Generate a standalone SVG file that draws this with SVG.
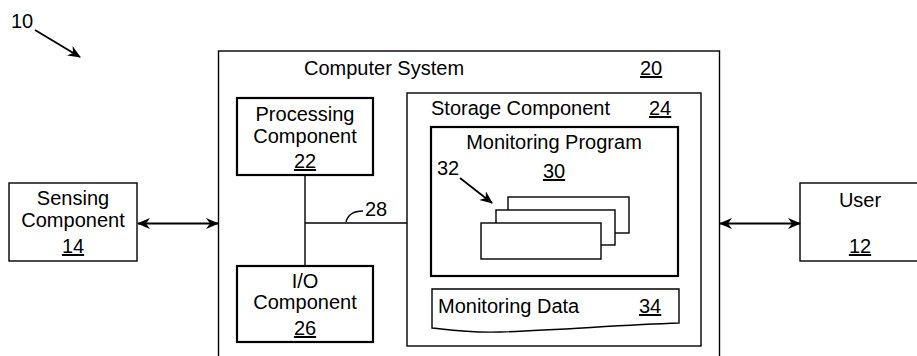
<svg xmlns="http://www.w3.org/2000/svg" width="917" height="356" viewBox="0 0 917 356">
<style>
  text { font-family: "Liberation Sans", Arial, sans-serif; font-size: 20px; fill: #000; }
  .c { text-anchor: middle; }
  .u { text-decoration: underline; }
  .box { fill: #fff; stroke: #000; stroke-width: 1.4; }
  .thick { fill: #fff; stroke: #000; stroke-width: 2.2; }
  .ln { fill: none; stroke: #000; stroke-width: 1.4; }
  .arr { fill: none; stroke: #000; stroke-width: 1.8; }
</style>
<defs>
  <marker id="ah" viewBox="0 0 13 11" refX="12" refY="5.5" markerWidth="13" markerHeight="11" markerUnits="userSpaceOnUse" orient="auto-start-reverse">
    <path d="M0,0 L13,5.5 L0,11 L4,5.5 z" fill="#000"/>
  </marker>
</defs>
<rect width="917" height="356" fill="#fff"/>

<g id="ref10">
  <text x="11" y="28">10</text>
  <line x1="35" y1="30" x2="80" y2="57" class="arr" marker-end="url(#ah)"/>
</g>

<g id="computer-system">
  <rect x="218.5" y="51" width="501" height="320" class="box"/>
  <text x="304" y="75">Computer System</text>
  <text x="640" y="75" class="u">20</text>
</g>

<g id="processing">
  <rect x="237" y="98" width="136" height="77" class="thick"/>
  <text x="305" y="121" class="c">Processing</text>
  <text x="305" y="143" class="c">Component</text>
  <text x="305" y="168" class="c u">22</text>
</g>

<g id="io">
  <rect x="237" y="266" width="136" height="76" class="thick"/>
  <text x="305" y="288" class="c">I/O</text>
  <text x="305" y="309" class="c">Component</text>
  <text x="305" y="335" class="c u">26</text>
</g>

<g id="storage">
  <rect x="407" y="93" width="294" height="253" class="box"/>
  <text x="431" y="115">Storage Component</text>
  <text x="649" y="115" class="u">24</text>
</g>

<g id="monitoring-program">
  <rect x="431" y="127" width="247" height="149" class="thick"/>
  <text x="554" y="149" class="c">Monitoring Program</text>
  <text x="554" y="178" class="c u">30</text>
  <text x="437" y="175">32</text>
  <line x1="460" y1="178" x2="492" y2="203" class="arr" marker-end="url(#ah)"/>
  <g id="modules">
    <rect x="508" y="197" width="121" height="36" class="box"/>
    <rect x="496" y="210" width="119" height="35" class="box"/>
    <rect x="481" y="223" width="120" height="36" class="box"/>
  </g>
</g>

<g id="monitoring-data">
  <path d="M432,289 L679,289 L679,323 C620,325 560,330 500,332 C470,333 450,330 432,328 Z" class="box"/>
  <text x="438" y="313">Monitoring Data</text>
  <text x="639" y="313" class="u">34</text>
</g>

<g id="sensing">
  <rect x="9" y="183" width="128" height="78" class="box"/>
  <text x="73" y="205" class="c">Sensing</text>
  <text x="73" y="227" class="c">Component</text>
  <text x="73" y="253" class="c u">14</text>
</g>

<g id="user">
  <rect x="800" y="183" width="130" height="78" class="box"/>
  <text x="860" y="207" class="c">User</text>
  <text x="860" y="253" class="c u">12</text>
</g>

<g id="connectors">
  <line x1="305" y1="175" x2="305" y2="266" class="ln"/>
  <line x1="305" y1="223" x2="407" y2="223" class="ln"/>
  <path d="M346,222 C348,214 355,211 363,211" class="ln"/>
  <text x="365" y="216">28</text>
  <line x1="138" y1="223.5" x2="218" y2="223.5" class="arr" marker-start="url(#ah)" marker-end="url(#ah)"/>
  <line x1="720" y1="223.5" x2="800" y2="223.5" class="arr" marker-start="url(#ah)" marker-end="url(#ah)"/>
</g>
</svg>
